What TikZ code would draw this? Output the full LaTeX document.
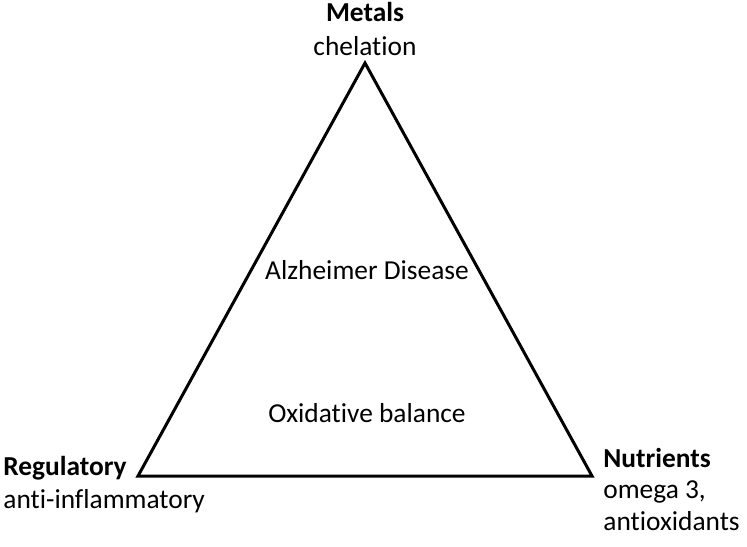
\documentclass[tikz,border=0pt]{standalone}
\usepackage{fontspec}
\setmainfont[Ligatures=NoCommon]{Carlito}
\usetikzlibrary{positioning}

\begin{document}
\begin{tikzpicture}[x=0.5pt,y=-0.5pt,inner sep=0pt,
    txt/.style={font=\fontsize{13.7}{16}\selectfont},
    head/.style={txt,font=\fontsize{13.7}{16}\selectfont\bfseries}]
			   \useasboundingbox (0,0) rectangle (747,546);
			   % corners of the triangle
			   \coordinate (top) at (365,63);
			   \coordinate (left) at (138,476);
			   \coordinate (right) at (592,476);
			   \draw[line width=1.5pt,line join=miter] (top) -- (left) -- (right) -- cycle;
			   % labels
			   \node[head,anchor=base] (metals) at (365,21) {Metals};
			   \node[txt,anchor=base] (chel) at (365,55) {chelation};
			   \node[head,anchor=base west] (reg) at (3,475) {Regulatory};
			   \node[txt,anchor=base west] (anti) at (3,508) {anti-inflammatory};
			   \node[head,anchor=base west] (nutr) at (603,467) {Nutrients};
			   \node[txt,anchor=base west] (omega) at (603,498) {omega 3,};
			   \node[txt,anchor=base west] (antiox) at (603,530) {antioxidants};
			   \node[txt] (ad) at (367,270) {Alzheimer Disease};
			   \node[txt] (ox) at (367,413) {Oxidative balance};
			\end{tikzpicture}
\end{document}
